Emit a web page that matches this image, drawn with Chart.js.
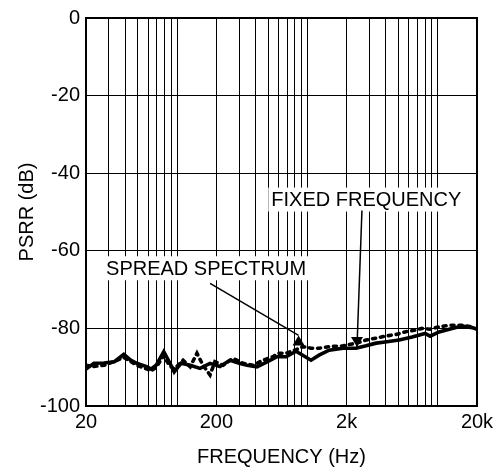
<!DOCTYPE html>
<html>
<head>
<meta charset="utf-8">
<script src="https://cdn.jsdelivr.net/npm/chart.js@4"></script>
<style>
  html, body { margin: 0; padding: 0; background: #fff; }
  #wrap { width: 500px; height: 475px; }
</style>
</head>
<body>
<div id="wrap"><canvas id="psrrChart" width="500" height="475"></canvas></div>
<script>
// Solid trace
const solidFreq = [20, 23, 27.5, 33, 39, 44, 49, 59, 63, 69, 79, 87, 95, 107, 126, 150, 179, 213, 255, 300,
  344, 410, 490, 585, 686, 818, 1066, 1228, 1466, 1876, 2360, 2818, 3366, 3945, 5050, 6355, 8000, 8730, 10240, 12880,
  15380, 18340, 20000];
const solidPsrr = [-90.5, -89, -88.9, -88.6, -86.7, -88.2, -89, -89.9, -90.5, -89.5, -86, -88.6, -91.2, -89, -89.5, -90.3, -89, -89.8, -88.2, -89,
  -89.5, -89.9, -88.6, -87.3, -87.3, -85.9, -88.2, -86.9, -85.6, -85.1, -85.1, -84.5, -83.8, -83.5, -83, -82.2, -81.3, -82, -80.9, -80,
  -79.4, -79.8, -80.2];

// Dotted trace
const dottedFreq = [20, 23, 27.5, 33, 39, 44, 49, 59, 63, 69, 79, 87, 95, 111, 126, 142, 158, 179, 195, 225,
  269, 321, 383, 456, 545, 595, 686, 818, 925, 1066, 1228, 1466, 1876, 2360, 2818, 3366, 3945, 4880, 5610, 6580,
  7580, 8730, 10240, 12220, 15380, 17700];
const dottedPsrr = [-89.5, -89.8, -89.5, -88.5, -87.5, -88.5, -89.5, -90.5, -91, -90, -87, -89.5, -90.5, -88.2, -89.9, -86.4, -89.5, -92, -88.6, -89.5,
  -87.7, -89, -89.5, -88.2, -87.3, -86.4, -86.4, -85.5, -84.7, -85.1, -85.1, -84.7, -84.5, -83.8, -83, -82.5, -82, -81.5, -80.9, -80.5,
  -80, -80.2, -79.6, -79.2, -79.2, -79.5];

// Axis ticks
const xGridValues = [20, 30, 40, 50, 60, 70, 80, 90, 100, 200, 300, 400, 500, 600, 700, 800, 900, 1000,
  2000, 3000, 4000, 5000, 6000, 7000, 8000, 9000, 10000, 20000];
const xLabelValues = [20, 200, 2000, 20000];
const xLabelText = ['20', '200', '2k', '20k'];

// Callouts: label text, label anchor (freq, dB), arrow start, arrow tip, head direction
const callouts = [
  { text: 'SPREAD SPECTRUM', at: [28.5, -64.5], from: [179, -68.4], to: [855, -81.8], head: 'up' },
  { text: 'FIXED FREQUENCY', at: [528, -46.8], from: [2620, -49.6], to: [2400, -84.8], head: 'down' }
];

const FONT = 'Liberation Sans, Arial, Helvetica, sans-serif';

const toXY = (xs, ys) => xs.map((x, i) => ({ x: x, y: ys[i] }));

const frameAndCallouts = {
  id: 'frameAndCallouts',
  afterDraw(chart) {
    const ctx = chart.ctx;
    const a = chart.chartArea;
    const xs = chart.scales.x, ys = chart.scales.y;
    ctx.save();
    ctx.strokeStyle = '#000';
    ctx.lineWidth = 2;
    ctx.strokeRect(a.left, a.top, a.right - a.left, a.bottom - a.top);

    ctx.font = '20px ' + FONT;
    ctx.textBaseline = 'middle';
    ctx.textAlign = 'left';
    callouts.forEach(c => {
      const tx = xs.getPixelForValue(c.at[0]);
      const ty = ys.getPixelForValue(c.at[1]);
      const w = ctx.measureText(c.text).width;
      ctx.fillStyle = '#fff';
      ctx.fillRect(tx - 3, ty - 12, w + 6, 24);
      ctx.fillStyle = '#000';
      ctx.fillText(c.text, tx, ty + 1);

      const x0 = xs.getPixelForValue(c.from[0]), y0 = ys.getPixelForValue(c.from[1]);
      const x1 = xs.getPixelForValue(c.to[0]), y1 = ys.getPixelForValue(c.to[1]);
      ctx.lineWidth = 1.5;
      ctx.beginPath();
      ctx.moveTo(x0, y0);
      ctx.lineTo(x1, y1);
      ctx.stroke();
      // triangle marker at the arrow end
      ctx.beginPath();
      if (c.head === 'up') {
        ctx.moveTo(x1, y1);
        ctx.lineTo(x1 - 6, y1 + 10);
        ctx.lineTo(x1 + 6, y1 + 10);
      } else {
        ctx.moveTo(x1, y1);
        ctx.lineTo(x1 - 6, y1 - 10);
        ctx.lineTo(x1 + 6, y1 - 10);
      }
      ctx.closePath();
      ctx.fill();
    });
    ctx.restore();
  }
};

new Chart(document.getElementById('psrrChart'), {
  type: 'line',
  data: {
    datasets: [
      {
        label: 'SPREAD SPECTRUM',
        data: toXY(solidFreq, solidPsrr),
        borderColor: '#000',
        borderWidth: 3.6,
        pointRadius: 0,
        tension: 0,
        fill: false
      },
      {
        label: 'FIXED FREQUENCY',
        data: toXY(dottedFreq, dottedPsrr),
        borderColor: '#000',
        borderWidth: 3.6,
        borderDash: [3, 5],
        borderCapStyle: 'round',
        pointRadius: 0,
        tension: 0,
        fill: false
      }
    ]
  },
  options: {
    responsive: false,
    animation: false,
    layout: { padding: { top: 17, right: 23, left: 0, bottom: 0 } },
    plugins: {
      legend: { display: false },
      tooltip: { enabled: false }
    },
    scales: {
      x: {
        type: 'logarithmic',
        min: 20,
        max: 20000,
        afterBuildTicks: scale => { scale.ticks = xGridValues.map(v => ({ value: v })); },
        afterFit: scale => { scale.height = 69; },
        ticks: {
          autoSkip: false,
          maxRotation: 0,
          padding: 4,
          color: '#000',
          font: { family: FONT, size: 20 },
          callback: value => {
            const i = xLabelValues.indexOf(value);
            return i >= 0 ? xLabelText[i] : '';
          }
        },
        grid: { color: '#000', lineWidth: 1, drawTicks: false },
        border: { display: true, color: '#000', width: 2 },
        title: {
          display: true,
          text: 'FREQUENCY (Hz)',
          color: '#000',
          font: { family: FONT, size: 20 },
          padding: { top: 0, bottom: 6 }
        }
      },
      y: {
        min: -100,
        max: 0,
        afterFit: scale => { scale.width = 86; },
        ticks: {
          stepSize: 20,
          padding: 6,
          color: '#000',
          font: { family: FONT, size: 20 }
        },
        grid: { color: '#000', lineWidth: 1, drawTicks: false },
        border: { display: true, color: '#000', width: 2 },
        title: {
          display: true,
          text: 'PSRR (dB)',
          color: '#000',
          font: { family: FONT, size: 20 },
          padding: { top: 15, bottom: 0 }
        }
      }
    }
  },
  plugins: [frameAndCallouts]
});
</script>
</body>
</html>
